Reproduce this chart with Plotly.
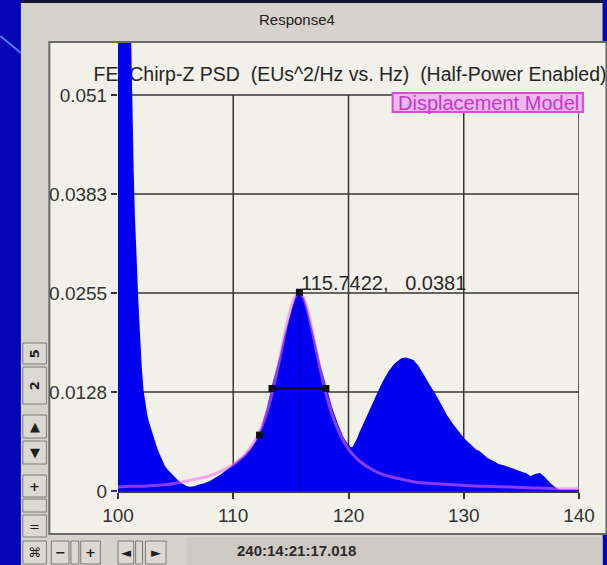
import plotly.graph_objects as go

# ---- PSD response (EUs^2/Hz) ----
psd_freq = [100.0, 100.2, 100.4, 100.6, 100.8, 101.0, 101.1, 101.2, 101.3, 101.4,
            101.5, 101.6, 101.7, 101.8, 101.9, 102.0, 102.15, 102.3, 102.45, 102.6,
            102.8, 103.0, 103.25, 103.5, 103.75, 104.0, 104.25, 104.5, 104.75, 105.0,
            105.25, 105.5, 105.8, 106.0, 106.3, 106.6, 107.0, 107.5, 108.0, 108.5,
            109.0, 109.5, 110.0, 110.5, 111.0, 111.5, 112.0, 112.5, 113.0, 113.5,
            114.0, 114.5, 115.0, 115.2, 115.4, 115.55, 115.7422, 115.9, 116.1, 116.35,
            116.6, 117.0, 117.5, 118.0, 118.5, 119.0, 119.5, 119.8, 120.0, 120.2,
            120.4, 120.6, 120.8, 121.0, 121.5, 122.0, 122.5, 123.0, 123.5, 124.0,
            124.3, 124.6, 125.0, 125.3, 125.6, 126.0, 126.5, 127.0, 127.5, 128.0,
            128.5, 129.0, 129.5, 130.0, 130.5, 131.0, 131.3, 131.6, 132.0, 132.5,
            133.0, 133.5, 134.0, 134.5, 135.0, 135.4, 135.8, 136.2, 136.6, 137.0,
            137.5, 138.0, 138.3, 139.0, 140.0]
psd_val = [0.300, 0.250, 0.180, 0.120, 0.085, 0.064, 0.055, 0.047, 0.041, 0.0355,
           0.031, 0.0275, 0.0245, 0.0215, 0.0185, 0.0158, 0.0130, 0.0112, 0.0100, 0.0090,
           0.0080, 0.0070, 0.0059, 0.0049, 0.0040, 0.0032, 0.0027, 0.0023, 0.0019, 0.0016,
           0.0012, 0.0009, 0.0006, 0.0005, 0.00045, 0.0005, 0.0007, 0.0009, 0.0012, 0.0016,
           0.0021, 0.0027, 0.0033, 0.0038, 0.0045, 0.0053, 0.0064, 0.0082, 0.0108, 0.0140,
           0.0168, 0.0200, 0.0228, 0.0239, 0.0248, 0.0253, 0.0256, 0.0253, 0.0247, 0.0235,
           0.0220, 0.0195, 0.0162, 0.0134, 0.0108, 0.0087, 0.0069, 0.0062, 0.0058, 0.0055,
           0.0056, 0.0061, 0.0067, 0.0075, 0.0092, 0.0108, 0.0124, 0.0140, 0.0153, 0.0163,
           0.0167, 0.0170, 0.0171, 0.0170, 0.0168, 0.0161, 0.0148, 0.0136, 0.0124, 0.0110,
           0.0097, 0.0086, 0.0076, 0.0067, 0.0060, 0.0053, 0.0051, 0.0047, 0.0042, 0.0038,
           0.0034, 0.0032, 0.0029, 0.0027, 0.0024, 0.0022, 0.0018, 0.0021, 0.0022, 0.0017,
           0.0009, 0.0003, 0.0001, 0.0001, 0.0001]

# ---- Displacement model fit ----
model_freq = [100, 101, 102, 103, 104, 105, 106, 107, 108, 109,
              110, 110.5, 111, 111.5, 112, 112.5, 113, 113.5, 114, 114.5,
              115, 115.4, 115.7422, 116.1, 116.5, 117, 117.5, 118, 118.5, 119,
              119.5, 120, 120.5, 121, 122, 123, 124, 125, 126, 127,
              128, 130, 132, 134, 136, 138, 140]
model_val = [0.0005, 0.0006, 0.0006, 0.0007, 0.0008, 0.0010, 0.0013, 0.0016, 0.0020, 0.0026,
             0.0034, 0.0040, 0.0047, 0.0056, 0.0068, 0.0084, 0.0105, 0.0134, 0.0168, 0.0205,
             0.0236, 0.0251, 0.0255, 0.0249, 0.0230, 0.0196, 0.0160, 0.0128, 0.0102, 0.0082,
             0.0066, 0.0054, 0.0045, 0.0038, 0.0028, 0.0021, 0.0017, 0.0014, 0.0011, 0.0010,
             0.0009, 0.0007, 0.0006, 0.0005, 0.0004, 0.0003, 0.0003]

# ---- Peak / half-power cursor ----
peak_freq = 115.7422
peak_psd = 0.0256
peak_readout = 0.0381
half_power_freq = [113.36, 118.04]
half_power_val = 0.0132
flank_freq = 112.28
flank_val = 0.0072

x_ticks = [100, 110, 120, 130, 140]
y_ticks = [0, 0.01275, 0.0255, 0.03825, 0.051]
y_tick_text = ["0", "0.0128", "0.0255", "0.0383", "0.051"]

title_text = "FE  Chirp-Z PSD  (EUs^2/Hz vs. Hz)  (Half-Power Enabled)"
window_title = "Response4"
legend_text = "Displacement Model"
status_text = "240:14:21:17.018"

# ---- page geometry (pixels) ----
W, H = 607, 565
PL, PR, PT, PB = 118, 588, 43, 491      # plot area
Y_TOP_PX = 95                            # pixel row of the top tick
y_top = y_ticks[-1] * (PB - PT) / (PB - Y_TOP_PX)


def px(x):
    return (x - PL) / (PR - PL)


def py(y):
    return (PB - y) / (PB - PT)


FONT = "Liberation Sans, Arial, sans-serif"
SYM = "DejaVu Sans, sans-serif"
GRID = "#363636"
SLIDE_BLUE = "#0606b4"
WIN_GRAY = "#d6d3cc"
PANEL = "#f1f0e9"
FILL_BLUE = "#0000f2"

shapes = []
annotations = []


def prect(x0, y0, x1, y1, fill, line=None, lw=0, layer="below"):
    shapes.append(dict(type="rect", xref="paper", yref="paper", layer=layer,
                       x0=px(x0), x1=px(x1), y0=py(y1), y1=py(y0),
                       fillcolor=fill,
                       line=dict(color=line or fill, width=lw)))


def ptext(x, y, text, size=14, color="#222222", family=FONT, angle=0, bold=False):
    annotations.append(dict(xref="paper", yref="paper", x=px(x), y=py(y),
                            text=f"<b>{text}</b>" if bold else text,
                            showarrow=False, textangle=angle,
                            xanchor="center", yanchor="middle",
                            font=dict(size=size, color=color, family=family)))


# window chrome
prect(19, 0, 612, 3, "#15152c")
prect(19, 3, 612, 570, WIN_GRAY)
prect(48, 42, 616, 534, PANEL, "#6a6a6a", 2)
prect(188, 537, 612, 570, "#cdcac3")
shapes.append(dict(type="line", xref="paper", yref="paper", layer="below",
                   x0=px(-2), y0=py(36), x1=px(19), y1=py(53),
                   line=dict(color="#4c7cff", width=2)))

# chart title sits behind the data
shapes.append(dict(type="rect", xref="paper", yref="paper", layer="below",
                   x0=px(90), x1=px(760), y0=py(82), y1=py(62),
                   fillcolor="rgba(0,0,0,0)", line=dict(width=0),
                   label=dict(text=title_text, textposition="middle left", padding=0,
                              font=dict(size=19.5, color="#262626", family=FONT))))

# side and bottom tool buttons
buttons = [
    (21, 343, 45, 364, "5", -90), (21, 367, 45, 404, "2", -90),
    (21, 415, 45, 438, "▲", 0), (21, 441, 45, 464, "▼", 0),
    (21, 475, 45, 497, "+", 0), (21, 499, 45, 512, "", 0),
    (21, 515, 45, 537, "=", 0),
    (21, 541, 45, 564, "⌘", 0), (50, 541, 68, 564, "−", 0),
    (70, 541, 78, 564, "", 0), (80, 541, 100, 564, "+", 0),
    (118, 541, 134, 564, "◄", 0), (136, 541, 143, 564, "", 0),
    (146, 541, 167, 564, "►", 0),
]
for x0, y0, x1, y1, t, ang in buttons:
    prect(x0, y0, x1, y1, "#dcd9d2", "#7a7a7a", 1)
    if t:
        ptext((x0 + x1) / 2, (y0 + y1) / 2, t, size=13, color="#1e1e1e",
              family=SYM, angle=ang, bold=t in ("5", "2", "+", "−"))

# grid drawn from the tick values, limited to the top tick
for v in y_ticks[1:]:
    shapes.append(dict(type="line", xref="x", yref="y", layer="below",
                       x0=x_ticks[0], x1=x_ticks[-1], y0=v, y1=v,
                       line=dict(color=GRID, width=1.5)))
for v in x_ticks[1:]:
    shapes.append(dict(type="line", xref="x", yref="y", layer="below",
                       x0=v, x1=v, y0=0, y1=y_ticks[-1],
                       line=dict(color=GRID, width=1.5)))

ptext(300, 20, window_title, size=15, color="#202020")
ptext(300, 550, status_text, size=15, color="#2a2a2a", bold=True)

# legend box (tight frame drawn as a shape, text on top)
prect(398, 93, 592, 112, "#f2b6f2", "#d24ed2", 2, layer="above")
ptext(496, 103, legend_text, size=20, color="#c43ac4")

# peak readout
annotations.append(dict(xref="x", yref="y", x=peak_freq, y=peak_psd,
                        xanchor="left", yanchor="bottom", xshift=0, yshift=-4,
                        showarrow=False,
                        text=f"{peak_freq:.4f},   {peak_readout:.4f}",
                        font=dict(size=20, color="#2a2a2a", family=FONT)))

fig = go.Figure()
fig.add_trace(go.Scatter(x=psd_freq, y=psd_val, mode="lines",
                         line=dict(color=FILL_BLUE, width=1.5),
                         fill="tozeroy", fillcolor=FILL_BLUE, hoverinfo="skip"))
fig.add_trace(go.Scatter(x=[peak_freq, peak_freq], y=[0, peak_psd], mode="lines",
                         line=dict(color="#0000c8", width=2), hoverinfo="skip"))
fig.add_trace(go.Scatter(x=model_freq, y=model_val, mode="lines",
                         line=dict(color="rgba(242,110,242,0.55)", width=3,
                                   shape="spline", smoothing=0.6),
                         hoverinfo="skip"))
fig.add_trace(go.Scatter(x=half_power_freq, y=[half_power_val] * 2, mode="lines+markers",
                         line=dict(color="#111111", width=2.5),
                         marker=dict(symbol="square", size=7, color="#111111")))
fig.add_trace(go.Scatter(x=[flank_freq, peak_freq], y=[flank_val, peak_psd], mode="markers",
                         marker=dict(symbol="square", size=7, color="#111111")))

fig.update_layout(
    width=W, height=H, autosize=False,
    margin=dict(l=PL, r=W - PR, t=PT, b=H - PB, pad=0),
    paper_bgcolor=SLIDE_BLUE, plot_bgcolor="rgba(0,0,0,0)",
    showlegend=False,
    shapes=shapes, annotations=annotations,
    xaxis=dict(range=[x_ticks[0], x_ticks[-1]], tickvals=x_ticks,
               showgrid=False, zeroline=False, showline=True,
               linecolor=GRID, linewidth=1.5,
               ticks="outside", ticklen=6, tickcolor=GRID, tickwidth=1.5,
               tickfont=dict(size=19, color="#333333", family=FONT),
               fixedrange=True),
    yaxis=dict(range=[0, y_top], tickvals=y_ticks, ticktext=y_tick_text,
               showgrid=False, zeroline=False, showline=False,
               ticks="outside", ticklen=6, tickcolor=GRID, tickwidth=1.5,
               tickfont=dict(size=19, color="#333333", family=FONT),
               fixedrange=True),
)

fig.write_html("out.html")
